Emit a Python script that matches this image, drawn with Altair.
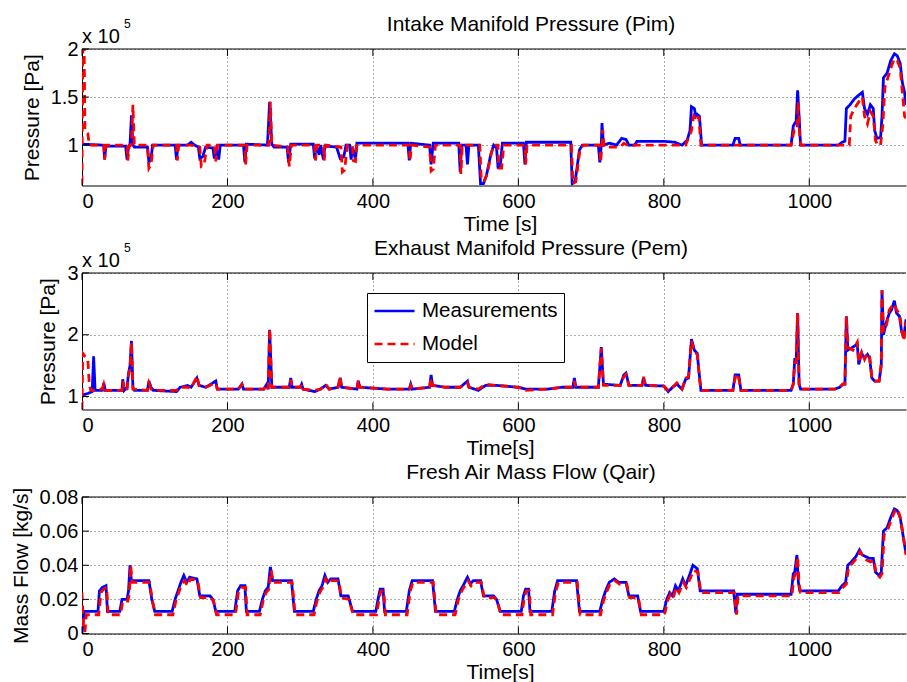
import altair as alt
import pandas as pd

FONT = "Liberation Sans"
W, H = 824, 136.5
T_MAX = 1133

series_names = ["Measurements", "Model"]
series_colors = ["#0000ff", "#ff0000"]
series_dashes = [[1, 0], [8, 5]]

time_ticks = [0, 200, 400, 600, 800, 1000]
pim_ticks = [1, 1.5, 2]
pem_ticks = [1, 2, 3]
qair_ticks = [0, 0.02, 0.04, 0.06, 0.08]
exponent_text = ["x 10", "5"]

# Intake manifold pressure, units of 1e5 Pa: (time [s], value)
pim_meas = [
    (0, 1.01), (28, 1.0), (30, 0.99), (31, 0.85), (33, 0.99), (60, 0.99), (62, 0.85), (64, 0.98),
    (66, 1.0), (68, 1.31), (70, 1.0), (72, 0.98), (90, 0.98), (92, 0.82), (95, 0.86), (97, 1.0),
    (128, 1.0), (130, 0.85), (132, 1.0), (145, 1.0), (150, 1.03), (155, 1.0), (160, 0.98), (162, 0.86),
    (166, 0.88), (170, 0.98), (180, 0.97), (182, 0.86), (184, 0.98), (188, 0.85), (190, 1.0), (222, 1.0),
    (224, 0.82), (226, 1.01), (255, 1.0), (258, 1.45), (261, 1.01), (264, 0.98), (282, 0.98), (284, 0.82),
    (287, 1.01), (318, 1.01), (320, 0.86), (322, 1.0), (326, 0.9), (328, 1.0), (332, 0.85), (334, 0.99),
    (350, 0.98), (355, 0.86), (360, 0.88), (363, 1.0), (368, 1.0), (370, 0.85), (372, 0.98), (376, 0.85),
    (378, 1.02), (448, 1.02), (450, 0.84), (452, 1.02), (478, 1.0), (480, 0.8), (483, 1.02), (518, 1.02),
    (520, 0.72), (522, 1.0), (528, 1.0), (530, 0.8), (532, 1.0), (545, 1.0), (548, 0.6), (552, 0.6),
    (556, 0.68), (562, 0.9), (566, 1.0), (570, 0.97), (572, 0.77), (575, 0.77), (578, 1.02), (607, 1.02),
    (609, 0.8), (611, 1.03), (672, 1.03), (674, 0.6), (678, 0.62), (684, 0.95), (688, 1.0), (710, 1.0),
    (712, 0.82), (714, 1.0), (715, 1.23), (717, 1.0), (725, 1.02), (735, 1.0), (742, 1.07), (748, 1.06),
    (752, 1.0), (760, 1.0), (763, 1.04), (800, 1.04), (815, 1.03), (825, 1.0), (832, 1.05), (836, 1.15),
    (838, 1.4), (842, 1.38), (844, 1.3), (846, 1.32), (849, 1.3), (852, 1.0), (895, 1.0), (898, 1.07),
    (903, 1.07), (905, 1.0), (975, 1.0), (978, 1.2), (982, 1.25), (984, 1.57), (986, 1.3), (988, 1.0),
    (1040, 1.0), (1045, 1.03), (1049, 1.04), (1051, 1.38), (1056, 1.42), (1062, 1.48), (1068, 1.52),
    (1073, 1.55), (1076, 1.38), (1080, 1.32), (1084, 1.42), (1088, 1.38), (1090, 1.15), (1093, 1.07),
    (1098, 1.08), (1100, 1.3), (1102, 1.7), (1107, 1.75), (1112, 1.88), (1117, 1.95), (1121, 1.93),
    (1125, 1.85), (1128, 1.65), (1131, 1.55), (1133, 1.42),
]
pim_model = [
    (0, 0.6), (1, 2.0), (3, 2.0), (4, 1.15), (8, 1.12), (10, 1.0), (30, 1.0), (31, 0.85), (33, 1.0),
    (62, 1.0), (63, 0.84), (65, 1.0), (68, 1.0), (70, 1.42), (72, 1.0), (90, 1.0), (92, 0.76), (95, 0.8),
    (98, 1.0), (130, 1.0), (131, 0.84), (133, 1.0), (150, 1.0), (162, 0.98), (164, 0.78), (168, 0.8),
    (172, 1.0), (182, 1.0), (184, 0.83), (186, 1.0), (190, 1.0), (224, 1.0), (225, 0.8), (227, 1.0),
    (257, 1.0), (259, 1.45), (261, 1.0), (283, 0.98), (285, 0.78), (288, 1.0), (320, 1.0), (321, 0.84),
    (323, 1.0), (332, 1.0), (333, 0.84), (335, 1.0), (356, 0.98), (358, 0.72), (361, 0.74), (365, 1.0),
    (372, 1.0), (373, 0.84), (376, 0.83), (378, 1.0), (450, 1.0), (451, 0.83), (453, 1.0), (478, 0.98),
    (480, 0.73), (483, 0.75), (486, 1.0), (520, 1.0), (521, 0.7), (523, 1.0), (547, 1.0), (549, 0.63),
    (553, 0.63), (557, 0.7), (563, 0.92), (566, 1.0), (572, 1.0), (573, 0.76), (577, 0.76), (580, 1.0),
    (609, 1.0), (610, 0.8), (612, 1.0), (673, 1.0), (675, 0.6), (679, 0.62), (685, 0.97), (690, 1.0),
    (712, 1.0), (713, 0.82), (715, 1.0), (716, 1.16), (718, 0.98), (740, 0.98), (745, 1.02), (750, 1.0),
    (830, 1.0), (838, 1.15), (841, 1.3), (845, 1.25), (848, 1.3), (851, 1.0), (975, 1.0), (979, 1.15),
    (983, 1.15), (985, 1.45), (987, 1.05), (989, 1.0), (1055, 1.0), (1057, 1.3), (1062, 1.38),
    (1068, 1.45), (1073, 1.5), (1076, 1.3), (1080, 1.22), (1084, 1.35), (1088, 1.3), (1091, 1.05),
    (1094, 1.0), (1098, 1.0), (1101, 1.2), (1104, 1.6), (1108, 1.7), (1113, 1.82), (1117, 1.9),
    (1121, 1.88), (1125, 1.8), (1128, 1.55), (1131, 1.3), (1133, 1.28),
]

# Exhaust manifold pressure, units of 1e5 Pa
pem_meas = [
    (0, 1.02), (8, 1.05), (14, 1.08), (16, 1.65), (18, 1.1), (28, 1.1), (30, 1.22), (32, 1.1), (55, 1.1),
    (56, 1.28), (58, 1.1), (62, 1.15), (64, 1.38), (66, 1.5), (68, 1.9), (70, 1.15), (72, 1.1), (90, 1.1),
    (92, 1.25), (95, 1.15), (98, 1.1), (130, 1.08), (135, 1.15), (145, 1.18), (150, 1.15), (158, 1.3),
    (161, 1.18), (170, 1.15), (184, 1.25), (186, 1.12), (215, 1.12), (220, 1.2), (222, 1.12), (250, 1.12),
    (254, 1.2), (256, 1.12), (258, 2.08), (261, 1.15), (285, 1.15), (287, 1.3), (289, 1.15), (300, 1.15),
    (302, 1.2), (304, 1.12), (320, 1.08), (328, 1.12), (335, 1.18), (340, 1.12), (352, 1.15), (355, 1.3),
    (357, 1.15), (378, 1.12), (380, 1.25), (382, 1.15), (420, 1.12), (450, 1.12), (452, 1.2), (454, 1.12),
    (478, 1.15), (480, 1.35), (482, 1.18), (500, 1.15), (520, 1.15), (530, 1.25), (532, 1.15), (545, 1.1),
    (555, 1.18), (570, 1.18), (600, 1.15), (610, 1.12), (640, 1.12), (660, 1.15), (675, 1.15), (677, 1.3),
    (679, 1.15), (710, 1.15), (714, 1.8), (717, 1.2), (740, 1.18), (745, 1.35), (748, 1.38), (752, 1.18),
    (770, 1.18), (772, 1.3), (775, 1.18), (800, 1.17), (806, 1.08), (812, 1.15), (818, 1.2), (825, 1.12),
    (830, 1.28), (834, 1.3), (838, 1.93), (842, 1.75), (846, 1.7), (848, 1.45), (851, 1.1), (895, 1.1),
    (898, 1.35), (903, 1.35), (906, 1.1), (975, 1.1), (978, 1.2), (980, 1.6), (982, 1.6), (984, 2.35),
    (986, 1.2), (988, 1.12), (1035, 1.12), (1042, 1.15), (1046, 1.2), (1049, 1.2), (1051, 2.3),
    (1053, 1.75), (1060, 1.8), (1066, 1.85), (1068, 1.52), (1072, 1.7), (1076, 1.62), (1080, 1.68),
    (1083, 1.62), (1086, 1.3), (1090, 1.25), (1096, 1.25), (1099, 1.5), (1100, 2.72), (1102, 2.0),
    (1106, 2.2), (1110, 2.35), (1113, 2.4), (1117, 2.55), (1120, 2.35), (1124, 2.3), (1127, 2.05),
    (1130, 1.95), (1133, 2.25),
]
pem_model = [
    (0, 0.8), (1, 1.7), (4, 1.65), (8, 1.6), (10, 1.2), (12, 1.1), (16, 1.1), (18, 1.12), (28, 1.12),
    (30, 1.2), (32, 1.1), (55, 1.1), (56, 1.25), (58, 1.1), (62, 1.12), (64, 1.35), (66, 1.45), (68, 1.88),
    (70, 1.12), (90, 1.1), (92, 1.22), (95, 1.12), (98, 1.1), (130, 1.1), (135, 1.15), (145, 1.15),
    (150, 1.13), (158, 1.33), (161, 1.18), (170, 1.15), (184, 1.22), (186, 1.12), (215, 1.12), (220, 1.2),
    (222, 1.12), (250, 1.12), (254, 1.18), (256, 1.12), (258, 2.1), (261, 1.15), (285, 1.15), (287, 1.27),
    (289, 1.15), (300, 1.15), (302, 1.2), (304, 1.12), (320, 1.1), (328, 1.12), (335, 1.2), (340, 1.12),
    (352, 1.15), (355, 1.32), (357, 1.15), (378, 1.12), (380, 1.27), (382, 1.15), (420, 1.12), (450, 1.12),
    (452, 1.18), (454, 1.12), (478, 1.15), (480, 1.3), (482, 1.18), (500, 1.15), (520, 1.15), (530, 1.22),
    (532, 1.15), (545, 1.12), (555, 1.2), (570, 1.18), (600, 1.15), (610, 1.1), (640, 1.12), (660, 1.15),
    (675, 1.15), (677, 1.25), (679, 1.15), (710, 1.15), (714, 1.78), (717, 1.18), (740, 1.18), (745, 1.32),
    (748, 1.36), (752, 1.18), (770, 1.18), (772, 1.32), (775, 1.18), (800, 1.17), (806, 1.1), (812, 1.15),
    (818, 1.22), (825, 1.12), (830, 1.3), (834, 1.32), (838, 1.9), (842, 1.72), (846, 1.68), (848, 1.42),
    (851, 1.1), (895, 1.1), (898, 1.3), (901, 1.37), (903, 1.3), (906, 1.1), (975, 1.1), (978, 1.2),
    (980, 1.55), (982, 1.55), (984, 2.35), (986, 1.2), (988, 1.12), (1035, 1.12), (1042, 1.15),
    (1046, 1.2), (1049, 1.2), (1051, 2.3), (1053, 1.8), (1060, 1.75), (1066, 1.88), (1068, 1.55),
    (1072, 1.72), (1076, 1.6), (1080, 1.7), (1083, 1.65), (1086, 1.32), (1090, 1.25), (1096, 1.25),
    (1099, 1.55), (1100, 2.72), (1102, 2.05), (1106, 2.15), (1110, 2.4), (1113, 2.45), (1117, 2.5),
    (1120, 2.4), (1124, 2.35), (1127, 2.1), (1130, 1.9), (1133, 2.2),
]

# Fresh air mass flow [kg/s]
qair_meas = [
    (0, 0.0), (3, 0.013), (22, 0.013), (24, 0.025), (28, 0.027), (33, 0.028), (35, 0.013), (52, 0.013),
    (55, 0.02), (62, 0.02), (64, 0.025), (66, 0.04), (68, 0.031), (92, 0.031), (96, 0.02), (100, 0.013),
    (124, 0.013), (128, 0.02), (132, 0.025), (136, 0.03), (140, 0.034), (144, 0.03), (148, 0.033),
    (158, 0.032), (162, 0.022), (176, 0.022), (180, 0.02), (184, 0.013), (210, 0.013), (214, 0.025),
    (218, 0.028), (224, 0.028), (226, 0.013), (244, 0.013), (248, 0.02), (252, 0.025), (256, 0.027),
    (259, 0.039), (262, 0.031), (288, 0.031), (292, 0.013), (318, 0.013), (322, 0.02), (326, 0.025),
    (330, 0.028), (334, 0.034), (338, 0.03), (342, 0.032), (352, 0.032), (356, 0.022), (366, 0.022),
    (372, 0.013), (404, 0.013), (407, 0.02), (410, 0.026), (414, 0.026), (416, 0.013), (446, 0.013),
    (450, 0.025), (454, 0.031), (482, 0.031), (486, 0.013), (512, 0.013), (516, 0.02), (520, 0.025),
    (524, 0.028), (530, 0.033), (534, 0.029), (538, 0.031), (548, 0.031), (552, 0.022), (566, 0.022),
    (570, 0.02), (575, 0.013), (604, 0.013), (607, 0.022), (610, 0.026), (614, 0.026), (616, 0.013),
    (646, 0.013), (650, 0.025), (654, 0.031), (680, 0.031), (684, 0.013), (712, 0.013), (716, 0.02),
    (720, 0.025), (725, 0.03), (732, 0.032), (738, 0.03), (748, 0.03), (752, 0.022), (764, 0.022),
    (768, 0.013), (800, 0.013), (804, 0.02), (808, 0.024), (812, 0.022), (816, 0.028), (820, 0.025),
    (826, 0.032), (830, 0.028), (836, 0.035), (840, 0.04), (846, 0.038), (850, 0.025), (896, 0.025),
    (899, 0.012), (901, 0.023), (975, 0.023), (978, 0.035), (980, 0.036), (983, 0.046), (985, 0.03),
    (987, 0.025), (1040, 0.025), (1045, 0.028), (1050, 0.03), (1053, 0.04), (1058, 0.042), (1064, 0.045),
    (1069, 0.049), (1073, 0.046), (1078, 0.045), (1083, 0.044), (1088, 0.044), (1091, 0.036),
    (1096, 0.034), (1099, 0.036), (1102, 0.06), (1107, 0.062), (1112, 0.068), (1117, 0.073),
    (1121, 0.072), (1125, 0.068), (1128, 0.06), (1131, 0.052), (1133, 0.047),
]
qair_model = [
    (0, 0.024), (2, 0.004), (4, 0.001), (6, 0.011), (23, 0.011), (26, 0.024), (30, 0.026), (34, 0.027),
    (36, 0.011), (53, 0.011), (56, 0.019), (63, 0.019), (65, 0.023), (67, 0.04), (69, 0.03), (93, 0.03),
    (97, 0.019), (101, 0.011), (125, 0.011), (129, 0.019), (133, 0.024), (137, 0.029), (141, 0.031),
    (145, 0.028), (149, 0.032), (159, 0.031), (163, 0.021), (177, 0.021), (181, 0.019), (185, 0.011),
    (211, 0.011), (215, 0.024), (219, 0.027), (225, 0.027), (227, 0.011), (245, 0.011), (249, 0.019),
    (253, 0.024), (257, 0.026), (260, 0.037), (263, 0.03), (289, 0.03), (293, 0.011), (319, 0.011),
    (323, 0.019), (327, 0.024), (331, 0.027), (335, 0.032), (339, 0.029), (343, 0.031), (353, 0.031),
    (357, 0.021), (367, 0.02), (373, 0.011), (405, 0.011), (408, 0.019), (411, 0.025), (415, 0.025),
    (417, 0.011), (447, 0.011), (451, 0.024), (455, 0.03), (483, 0.03), (487, 0.011), (513, 0.011),
    (517, 0.019), (521, 0.024), (525, 0.027), (531, 0.031), (535, 0.028), (539, 0.03), (549, 0.03),
    (553, 0.021), (567, 0.021), (571, 0.019), (576, 0.011), (605, 0.011), (608, 0.021), (611, 0.025),
    (615, 0.025), (617, 0.011), (647, 0.011), (651, 0.024), (655, 0.03), (681, 0.03), (685, 0.011),
    (713, 0.011), (717, 0.019), (721, 0.024), (726, 0.029), (733, 0.031), (739, 0.029), (749, 0.029),
    (753, 0.021), (765, 0.021), (769, 0.011), (801, 0.011), (805, 0.019), (809, 0.023), (813, 0.021),
    (817, 0.027), (821, 0.024), (827, 0.03), (831, 0.027), (837, 0.033), (841, 0.037), (847, 0.036),
    (851, 0.024), (897, 0.024), (900, 0.011), (902, 0.022), (976, 0.022), (979, 0.033), (981, 0.035),
    (984, 0.045), (986, 0.029), (988, 0.024), (1041, 0.024), (1046, 0.027), (1051, 0.029), (1054, 0.039),
    (1059, 0.041), (1065, 0.044), (1070, 0.048), (1074, 0.045), (1079, 0.043), (1084, 0.042),
    (1089, 0.043), (1092, 0.035), (1097, 0.033), (1100, 0.035), (1103, 0.058), (1108, 0.061),
    (1113, 0.067), (1118, 0.072), (1122, 0.073), (1126, 0.066), (1129, 0.058), (1132, 0.049),
    (1133, 0.046),
]


def to_frame(meas, model):
    rows = [{"t": t, "v": v, "series": series_names[0]} for t, v in meas]
    rows += [{"t": t, "v": v, "series": series_names[1]} for t, v in model]
    return pd.DataFrame(rows)


def label(text, size, x, y, align="left", baseline="alphabetic"):
    return alt.Chart(pd.DataFrame({"s": [text]})).mark_text(
        align=align, baseline=baseline, fontSize=size, font=FONT, color="black"
    ).encode(x=alt.value(x), y=alt.value(y), text="s:N")


def panel(meas, model, title, x_title, y_title, y_domain, y_ticks, y_format,
          exponent=False, legend=None):
    x_enc = alt.X(
        "t:Q",
        scale=alt.Scale(domain=[0, T_MAX], nice=False, zero=False),
        axis=alt.Axis(values=time_ticks, format="d", title=x_title,
                      labelPadding=6, titleX=418, titleY=39, titleBaseline="middle"),
    )
    y_enc = alt.Y(
        "v:Q",
        scale=alt.Scale(domain=y_domain, nice=False, zero=False),
        axis=alt.Axis(values=y_ticks, format=y_format, title=y_title,
                      labelPadding=4, titlePadding=8),
    )
    color = alt.Color(
        "series:N",
        scale=alt.Scale(domain=series_names, range=series_colors),
        legend=legend,
    )
    dash = alt.StrokeDash(
        "series:N",
        scale=alt.Scale(domain=series_names, range=series_dashes),
        legend=legend,
    )
    lines = (
        alt.Chart(to_frame(meas, model))
        .mark_line(strokeWidth=2.8, clip=True)
        .encode(x=x_enc, y=y_enc, color=color, strokeDash=dash)
    )

    # inward ticks on the box
    xt = pd.DataFrame({"t": time_ticks})
    yt = pd.DataFrame({"v": y_ticks})
    top_ticks = alt.Chart(xt).mark_rule(color="black", strokeWidth=1).encode(
        x=x_enc, y=alt.value(0), y2=alt.value(7))
    bottom_ticks = alt.Chart(xt).mark_rule(color="black", strokeWidth=1).encode(
        x=x_enc, y=alt.value(H), y2=alt.value(H - 7))
    left_ticks = alt.Chart(yt).mark_rule(color="black", strokeWidth=1).encode(
        y=y_enc, x=alt.value(0), x2=alt.value(7))
    top_edge = alt.Chart(pd.DataFrame({"e": [0]})).mark_rule(color="black", strokeWidth=1).encode(
        x=alt.value(0), x2=alt.value(W), y=alt.value(0))

    layers = [lines, top_ticks, bottom_ticks, left_ticks, top_edge,
              label(title, 21, 449, -24, align="center", baseline="middle")]

    if exponent:
        layers += [label(exponent_text[0], 20, 0, -6), label(exponent_text[1], 12, 42, -21)]

    return alt.layer(*layers).properties(width=W, height=H)


legend = alt.Legend(
    orient="none", legendX=285, legendY=20, title=None,
    symbolType="stroke", symbolSize=1600, symbolStrokeWidth=2.5, clipHeight=24,
    labelFontSize=20.5, labelFont=FONT, labelColor="black", labelOffset=6,
    padding=6, rowPadding=9, strokeColor="black", fillColor="white",
)

p1 = panel(pim_meas, pim_model, "Intake Manifold Pressure (Pim)", "Time [s]",
           "Pressure [Pa]", [0.58, 2.0], pim_ticks, "~g", exponent=True)
p2 = panel(pem_meas, pem_model, "Exhaust Manifold Pressure (Pem)", "Time[s]",
           "Pressure [Pa]", [0.79, 3.0], pem_ticks, "~g", exponent=True, legend=legend)
p3 = panel(qair_meas, qair_model, "Fresh Air Mass Flow (Qair)", "Time[s]",
           "Mass Flow [kg/s]", [0.0, 0.08], qair_ticks, "~g")

chart = (
    alt.vconcat(p1, p2, p3, spacing=87, bounds="flush")
    .resolve_legend(color="independent", strokeDash="independent")
    .properties(padding={"left": 10, "top": 14, "right": 0, "bottom": 2}, background="white")
    .configure_view(stroke=None)
    .configure_axis(
        labelFont=FONT, labelFontSize=20, labelColor="black",
        titleFont=FONT, titleFontSize=21, titleFontWeight="normal", titleColor="black",
        domainColor="black", domainWidth=1, ticks=False, tickSize=0,
        gridColor="#555555", gridDash=[1, 3], gridWidth=1,
    )
)

chart.save("out.html", embed_options={"renderer": "svg", "actions": False})
